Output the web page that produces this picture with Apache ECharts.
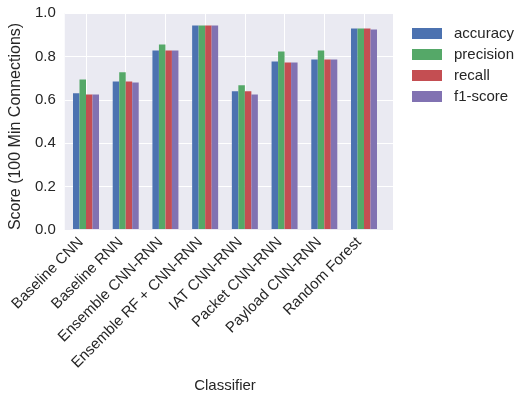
<!DOCTYPE html>
<html>
<head>
<meta charset="utf-8">
<script src="https://cdn.jsdelivr.net/npm/echarts@6/dist/echarts.min.js"></script>
<style>
  html, body { margin: 0; padding: 0; background: #fff; }
  #main { width: 527px; height: 398px; }
</style>
</head>
<body>
<div id="main"></div>
<script>
var categories = ['Baseline CNN', 'Baseline RNN', 'Ensemble CNN-RNN', 'Ensemble RF + CNN-RNN',
    'IAT CNN-RNN', 'Packet CNN-RNN', 'Payload CNN-RNN', 'Random Forest'];
var accuracy  = [0.628, 0.683, 0.826, 0.942, 0.637, 0.775, 0.785, 0.928];
var precision = [0.692, 0.725, 0.854, 0.942, 0.665, 0.822, 0.826, 0.928];
var recall    = [0.623, 0.683, 0.826, 0.942, 0.637, 0.771, 0.785, 0.928];
var f1score   = [0.623, 0.678, 0.826, 0.942, 0.623, 0.771, 0.785, 0.923];
var yTicks = [0, 0.2, 0.4, 0.6, 0.8, 1.0];

var colors = ['#4C72B0', '#55A868', '#C44E52', '#8172B2'];
var font = 'Liberation Sans, Arial, sans-serif';
var textColor = '#262626';

var chart = echarts.init(document.getElementById('main'));

function barSeries(name, data) {
    return {
        name: name,
        type: 'bar',
        xAxisIndex: 1,
        yAxisIndex: 1,
        data: data,
        barWidth: 6.5,
        barGap: '0%',
        clip: false,
        z: 3
    };
}

var option = {
    animation: false,
    color: colors,
    textStyle: { fontFamily: font },
    grid: [
        { left: 59, top: 13, width: 334, height: 217, show: true,
          backgroundColor: '#EAEAF2', borderWidth: 0 },
        { left: 86, top: 13, width: 278, height: 217 }
    ],
    legend: {
        orient: 'vertical',
        left: 412,
        top: 26,
        padding: 0,
        icon: 'rect',
        itemWidth: 30,
        itemHeight: 11,
        itemGap: 6,
        textStyle: { fontSize: 15, color: textColor, fontFamily: font, padding: [0, 0, 0, 7] },
        data: ['accuracy', 'precision', 'recall', 'f1-score']
    },
    xAxis: [
        { gridIndex: 0, type: 'value', min: 0, max: 1, show: false },
        {
            gridIndex: 1,
            type: 'category',
            data: categories,
            boundaryGap: false,
            name: 'Classifier',
            nameLocation: 'middle',
            nameGap: 145,
            nameTextStyle: { fontSize: 15, color: textColor, fontFamily: font },
            axisLine: { show: false },
            axisTick: { show: false },
            splitLine: { show: true, lineStyle: { color: '#fff', width: 1 } },
            axisLabel: { rotate: 45, fontSize: 15, color: textColor, margin: 6,
                fontFamily: font, padding: [0, 7, 0, 0] }
        }
    ],
    yAxis: [
        {
            gridIndex: 0,
            type: 'value',
            min: 0,
            max: 1,
            interval: 0.2,
            name: 'Score (100 Min Connections)',
            nameLocation: 'middle',
            nameGap: 32,
            nameTextStyle: { fontSize: 16, color: textColor, fontFamily: font, padding: [0, 10, 0, 0] },
            axisLine: { show: false },
            axisTick: { show: false },
            splitLine: { show: true, lineStyle: { color: '#fff', width: 1 } },
            axisLabel: {
                fontSize: 15, color: textColor, margin: 9, fontFamily: font,
                formatter: function (v) { return v.toFixed(1); }
            }
        },
        { gridIndex: 1, type: 'value', min: 0, max: 1, show: false }
    ],
    series: [
        barSeries('accuracy', accuracy),
        barSeries('precision', precision),
        barSeries('recall', recall),
        barSeries('f1-score', f1score)
    ]
};

chart.setOption(option);
</script>
</body>
</html>
